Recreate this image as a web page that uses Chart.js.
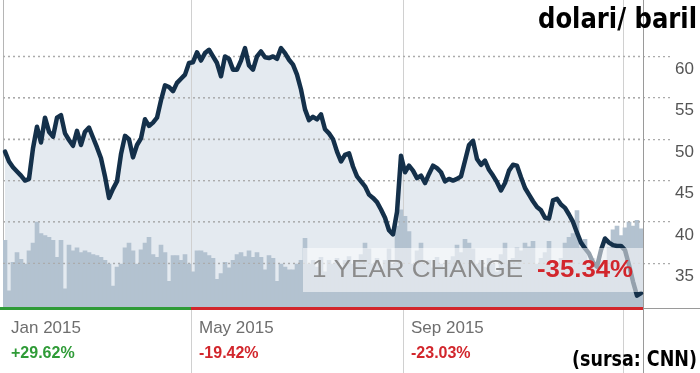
<!DOCTYPE html>
<html>
<head>
<meta charset="utf-8">
<script src="https://cdn.jsdelivr.net/npm/chart.js@4"></script>
<style>
  html, body { margin: 0; padding: 0; background: #fff; }
  canvas { display: block; }
</style>
</head>
<body>
<canvas id="chart" width="700" height="373"></canvas>
<script>
// crude oil price, one point every ~2 trading days
const prices = [
  48.5, 47.3, 46.6, 46.1, 45.6, 45.0, 45.2, 48.9, 51.5, 49.6,
  52.6, 50.9, 50.3, 52.6, 52.9, 50.7, 49.9, 49.2, 51.0, 49.3,
  50.9, 51.4, 50.2, 49.0, 47.7, 45.5, 42.9, 44.0, 44.9, 48.2,
  50.4, 50.0, 47.8, 49.3, 50.1, 52.4, 51.6, 52.0, 52.6, 54.7,
  56.5, 56.3, 55.8, 56.8, 57.3, 57.8, 59.2, 59.3, 60.5, 59.5,
  60.4, 60.8, 60.0, 59.2, 57.6, 60.0, 59.7, 58.4, 58.4, 59.5,
  61.0, 58.9, 58.4, 60.0, 60.6, 59.9, 59.8, 60.0, 59.7, 61.0,
  60.4, 59.6, 59.0, 57.8, 56.0, 53.6, 52.3, 52.7, 52.4, 53.0,
  51.2, 50.7, 50.0, 48.5, 47.3, 48.1, 48.3, 46.7, 45.5, 44.9,
  44.3, 43.3, 42.9, 42.4, 41.5, 40.5, 39.0, 38.5, 41.2, 48.0,
  46.0, 46.8, 46.2, 45.3, 45.6, 44.7, 45.8, 46.8, 46.5, 46.0,
  44.9, 45.2, 45.0, 45.2, 45.5, 47.4, 49.3, 49.8, 47.6, 46.9,
  47.4, 46.3, 45.6, 44.8, 43.8, 44.7, 46.2, 46.9, 46.8, 45.4,
  44.1, 43.3, 42.5, 41.8, 41.4, 40.5, 40.4, 42.6, 42.8, 42.1,
  41.7, 40.9, 40.0, 38.7, 37.5, 36.8, 36.2, 35.1, 34.6, 36.6,
  38.0, 37.5, 37.2, 37.1, 37.1, 36.6, 34.8, 32.8, 31.1, 31.4,
]

// traded volume (relative units)
const volumes = [
  71, 18, 48, 58, 51, 46, 60, 68, 90, 78,
  76, 74, 71, 53, 71, 20, 66, 60, 63, 58,
  60, 58, 56, 55, 53, 50, 46, 23, 43, 46,
  63, 68, 60, 46, 61, 68, 74, 56, 53, 66,
  58, 28, 55, 55, 50, 56, 46, 38, 60, 60,
  58, 55, 52, 30, 36, 48, 42, 50, 56, 58,
  54, 60, 53, 58, 53, 40, 55, 52, 28, 46,
  43, 40, 40, 46, 50, 73, 46, 50, 43, 53,
  38, 50, 46, 52, 42, 50, 54, 46, 50, 56,
  68, 62, 46, 52, 40, 50, 62, 46, 86, 103,
  96, 80, 46, 60, 68, 46, 50, 42, 53, 46,
  40, 50, 54, 66, 58, 72, 68, 62, 46, 50,
  43, 52, 46, 38, 56, 68, 46, 52, 63, 60,
  68, 64, 70, 46, 52, 58, 70, 46, 42, 52,
  68, 74, 78, 102, 63, 72, 46, 52, 46, 50,
  42, 63, 82, 86, 76, 84, 90, 86, 92, 83,
]

const yTicks = [35, 40, 45, 50, 55, 60]
const sectionLabels = ['Jan 2015', 'May 2015', 'Sep 2015']
const sectionChanges = ['+29.62%', '-19.42%', '-23.03%']
const sectionStarts = [0, 47, 100]
const extraDividers = [155] // Jan 2016, no label
const yearChange = '-35.34%'

const labels = prices.map((_, i) => i)

const GREEN = '#2f9b37'
const RED = '#d2262c'
const GRID = '#ababab'

// draw text squeezed/stretched to a given width
function fitText(ctx, text, x, y, width, font) {
  ctx.font = font
  const w = ctx.measureText(text).width
  ctx.save()
  ctx.translate(x, y)
  ctx.scale(width / w, 1)
  ctx.fillText(text, 0, 0)
  ctx.restore()
}

const decorPlugin = {
  id: 'decor',
  beforeDatasetsDraw: (chart) => {
    const { ctx, chartArea } = chart
    const xs = chart.scales.x
    const step = xs.getPixelForValue(1) - xs.getPixelForValue(0)
    ctx.save()
    ctx.lineWidth = 1
    // left edge
    ctx.strokeStyle = '#b5b5b5'
    ctx.beginPath()
    ctx.moveTo(chartArea.left + 0.5, 0)
    ctx.lineTo(chartArea.left + 0.5, chartArea.bottom)
    ctx.stroke()
    // month dividers
    ctx.strokeStyle = '#d0d0d0'
    sectionStarts.slice(1).concat(extraDividers).forEach((i) => {
      const x = Math.round(xs.getPixelForValue(i) - step / 2) + 0.5
      ctx.beginPath()
      ctx.moveTo(x, 0)
      ctx.lineTo(x, chart.height)
      ctx.stroke()
    })
    // right edge
    ctx.strokeStyle = '#9a9a9a'
    ctx.beginPath()
    ctx.moveTo(chartArea.right + 0.5, 0)
    ctx.lineTo(chartArea.right + 0.5, chart.height)
    ctx.stroke()
    ctx.restore()
  },
  afterDatasetDraw: (chart, args) => {
    // dotted grid stays visible over the volume bars
    if (args.meta.type !== 'bar') return
    const { ctx, chartArea } = chart
    const ys = chart.scales.y
    ctx.save()
    ctx.strokeStyle = GRID
    ctx.lineWidth = 1.3
    ctx.setLineDash([2, 3])
    yTicks.forEach((v) => {
      const y = ys.getPixelForValue(v)
      ctx.beginPath()
      ctx.moveTo(chartArea.left, y)
      ctx.lineTo(chartArea.right, y)
      ctx.stroke()
    })
    ctx.restore()
  },
  afterDatasetsDraw: (chart) => {
    const { ctx, chartArea } = chart
    const xs = chart.scales.x
    const step = xs.getPixelForValue(1) - xs.getPixelForValue(0)
    ctx.save()

    // 1 year change box
    const boxLeft = 303
    ctx.fillStyle = 'rgba(255,255,255,0.55)'
    ctx.fillRect(boxLeft, 248, chartArea.right - boxLeft, 44)
    ctx.textBaseline = 'alphabetic'
    ctx.fillStyle = '#8b8b8b'
    fitText(ctx, '1 YEAR CHANGE', 312, 277, 211, '24px "Liberation Sans", Arial, sans-serif')
    ctx.fillStyle = RED
    fitText(ctx, yearChange, 537, 277, 96, 'bold 24px "Liberation Sans", Arial, sans-serif')

    // coloured axis line per section
    const edges = sectionStarts.map((i) => (i === 0 ? 0 : Math.round(xs.getPixelForValue(i) - step / 2)))
    edges.push(chartArea.right)
    sectionChanges.forEach((c, k) => {
      ctx.fillStyle = c.startsWith('+') ? GREEN : RED
      ctx.fillRect(edges[k], chartArea.bottom - 1, edges[k + 1] - edges[k], 3)
    })
    ctx.fillStyle = '#9a9a9a'
    ctx.fillRect(chartArea.right, chartArea.bottom, chart.width - chartArea.right, 1)

    // section labels
    sectionLabels.forEach((label, k) => {
      const x = (k === 0 ? chartArea.left : edges[k]) + 8
      ctx.fillStyle = '#6e6e6e'
      ctx.font = '17px "Liberation Sans", Arial, sans-serif'
      ctx.fillText(label, x, 333)
      ctx.fillStyle = sectionChanges[k].startsWith('+') ? GREEN : RED
      ctx.font = 'bold 16px "Liberation Sans", Arial, sans-serif'
      ctx.fillText(sectionChanges[k], x, 358)
    })

    // title and source
    ctx.fillStyle = '#000'
    fitText(ctx, 'dolari/ baril', 538, 28, 159, 'bold 29px "DejaVu Sans Condensed", "Liberation Sans Narrow", sans-serif')
    fitText(ctx, '(sursa: CNN)', 572, 366, 125, 'bold 22px "DejaVu Sans Condensed", "Liberation Sans Narrow", sans-serif')
    ctx.restore()
  },
}

new Chart(document.getElementById('chart'), {
  type: 'bar',
  data: {
    labels: labels,
    datasets: [
      {
        type: 'line',
        data: prices,
        yAxisID: 'y',
        borderColor: '#14304a',
        borderWidth: 4.5,
        borderJoinStyle: 'round',
        borderCapStyle: 'round',
        pointRadius: 0,
        tension: 0,
        fill: 'start',
        backgroundColor: 'rgba(196,208,222,0.45)',
        order: 0,
      },
      {
        type: 'bar',
        data: volumes,
        yAxisID: 'vol',
        backgroundColor: '#b3c2d0',
        barPercentage: 1,
        categoryPercentage: 1,
        order: 1,
      },
    ],
  },
  options: {
    responsive: false,
    animation: false,
    devicePixelRatio: 1,
    layout: { padding: { left: 3, right: 0, top: 0, bottom: 65 } },
    plugins: {
      legend: { display: false },
      tooltip: { enabled: false },
      filler: { drawTime: 'beforeDatasetsDraw' },
    },
    scales: {
      x: { display: false, offset: true },
      y: {
        position: 'right',
        min: 29.6,
        max: 65.1,
        afterBuildTicks: (scale) => {
          scale.ticks = yTicks.map((v) => ({ value: v }))
        },
        afterFit: (scale) => {
          scale.width = 57
        },
        border: { display: false, dash: [2, 3] },
        grid: {
          color: GRID,
          lineWidth: 1.3,
          drawTicks: true,
          tickLength: 28,
          tickBorderDash: [2, 3],
          tickColor: GRID,
        },
        ticks: {
          color: '#555',
          padding: 4,
          labelOffset: 13,
          font: { family: '"Liberation Sans", Arial, sans-serif', size: 17 },
        },
      },
      vol: {
        display: false,
        min: 0,
        max: 308,
      },
    },
  },
  plugins: [decorPlugin],
})
</script>
</body>
</html>
